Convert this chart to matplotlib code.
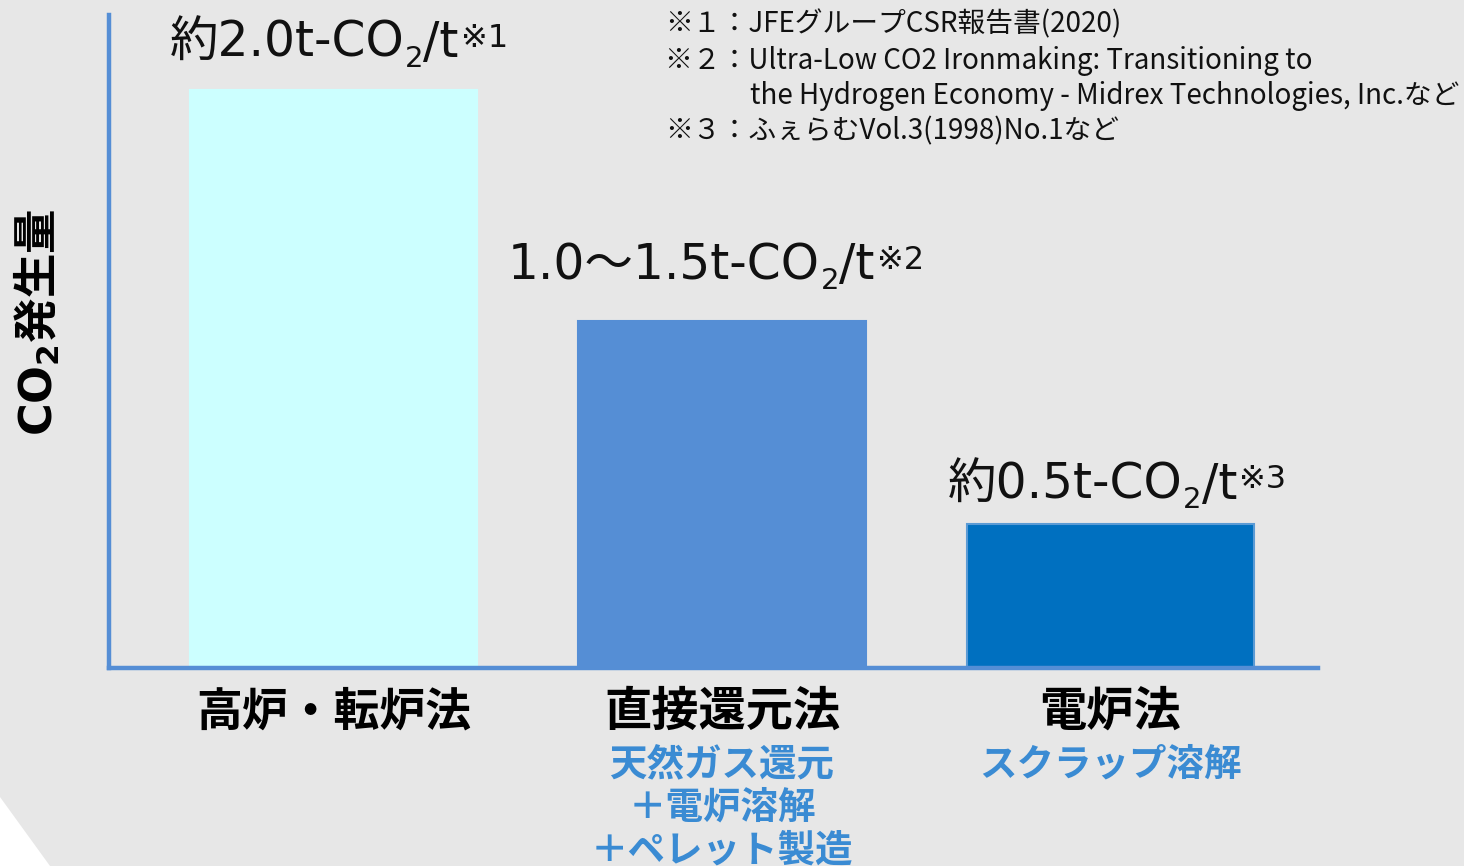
import matplotlib
matplotlib.use('Agg')
import matplotlib.pyplot as plt
from matplotlib.patches import Polygon
from matplotlib.transforms import blended_transform_factory

plt.rcParams['font.family'] = ['DejaVu Sans', 'Noto Sans CJK JP']
plt.rcParams['mathtext.fontset'] = 'custom'
plt.rcParams['mathtext.rm'] = 'DejaVu Sans'
plt.rcParams['mathtext.bf'] = 'DejaVu Sans:bold'

# データ
categories = ['高炉・転炉法', '直接還元法', '電炉法']
sub_labels = [[], ['天然ガス還元', '＋電炉溶解', '＋ペレット製造'], ['スクラップ溶解']]
co2 = [2.0, 1.2, 0.5]
value_heads = ['約2.0t-CO', '1.0～1.5t-CO', '約0.5t-CO']
value_notes = ['※1', '※2', '※3']
notes = ['※１：JFEグループCSR報告書(2020)',
         '※２：Ultra-Low CO2 Ironmaking: Transitioning to',
         'the Hydrogen Economy - Midrex Technologies, Inc.など',
         '※３：ふぇらむVol.3(1998)No.1など']

bg = '#e7e7e7'
bar_colors = ['#ccffff', '#558ed5', '#0070c0']
edge_colors = [bar_colors[0], bar_colors[1], '#5b9bd5']
axis_color = '#558ed5'
sub_color = '#3a8bd3'
txt = '#111111'

W, H = 1464, 866
fig = plt.figure(figsize=(W / 100, H / 100), dpi=100, facecolor=bg)
fig.patches.append(Polygon([(0, 0), (0, 69 / H), (50 / W, 0)], closed=True,
                           transform=fig.transFigure, facecolor='white',
                           edgecolor='none'))
ax = fig.add_axes([108.7 / W, 1 - 668 / H, (1318 - 108.7) / W, (668 - 15) / H])
ax.set_facecolor(bg)

x = list(range(len(categories)))
bw = 0.741
ax.bar(x, co2, width=bw, color=bar_colors, edgecolor=edge_colors,
       linewidth=1.5)
ax.set_xlim(-0.5786, 2.534)
ax.set_ylim(0, 2.26)

for s in ['top', 'right']:
    ax.spines[s].set_visible(False)
for s in ['left', 'bottom']:
    ax.spines[s].set_color(axis_color)
    ax.spines[s].set_linewidth(3.2)
ax.set_xticks([])
ax.set_yticks([])

# 棒の上のラベル: 本文 + 下付き2 + /t + 上付き注記 (オフセットはpx)
label_dx = [-20, -70, -19]
label_dy = [33, 42, 25]
for i, (v, head, nt) in enumerate(zip(co2, value_heads, value_notes)):
    t1 = ax.annotate(head, (i - bw / 2, v),
                     xytext=(label_dx[i] * 0.72, label_dy[i] * 0.72),
                     textcoords='offset points', ha='left', va='baseline',
                     fontsize=35, color=txt)
    t2 = ax.annotate('2', (1, 0), xycoords=t1, xytext=(0.5, -4),
                     textcoords='offset points', ha='left', va='bottom',
                     fontsize=21, color=txt)
    t3 = ax.annotate('/t', (1, 0), xycoords=(t2, t1), xytext=(0, 0),
                     textcoords='offset points', ha='left', va='bottom',
                     fontsize=35, color=txt)
    ax.annotate(nt, (1, 1), xycoords=(t3, t1), xytext=(1.5, -2.5),
                textcoords='offset points', ha='left', va='top',
                fontsize=23, color=txt)

# カテゴリ名
trans = blended_transform_factory(ax.transData, fig.transFigure)
cat_size = [33, 34, 34]
for i, cat in enumerate(categories):
    ax.text(i, 1 - 713 / H, cat, transform=trans, ha='center', va='center',
            fontsize=cat_size[i], fontweight='bold', color='black')
    for j, line in enumerate(sub_labels[i]):
        ax.text(i, 1 - (766 + 43 * j) / H, line, transform=trans,
                ha='center', va='center', fontsize=27, fontweight='bold',
                color=sub_color)

fig.text(38 / W, 1 - 322 / H, r'$\mathbf{CO_2}$発生量', rotation=90,
         ha='center', va='center', fontsize=32, fontweight='bold',
         family='Noto Sans CJK JP')

# 注記
note_x = [665, 665, 750, 665]
note_y = [24, 61, 96, 131]
for t, nx, ny in zip(notes, note_x, note_y):
    fig.text(nx / W, 1 - ny / H, t, ha='left', va='center', fontsize=20,
             family='Noto Sans CJK JP', color=txt)

fig.savefig('out.png', dpi=100, facecolor=bg)
